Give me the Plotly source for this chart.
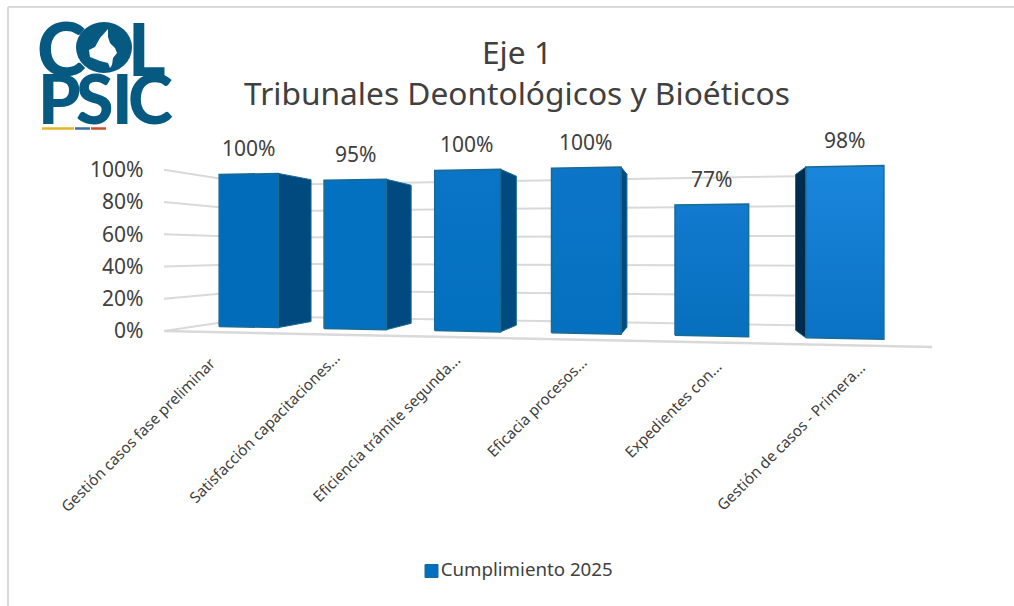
import plotly.graph_objects as go

# ---------- data ----------
categories = ["Gestión casos fase preliminar", "Satisfacción capacitaciones...",
              "Eficiencia trámite segunda...", "Eficacia procesos...",
              "Expedientes con...", "Gestión de casos - Primera..."]
values = [100, 95, 100, 100, 77, 98]
series_name = "Cumplimiento 2025"
value_ticks = [0, 20, 40, 60, 80, 100]
title_lines = ["Eje 1", "Tribunales Deontológicos y Bioéticos"]

# ---------- style / layout ----------
W, H = 1014, 606
FONT = "Noto Sans"
TEXT = "#404040"
GRID = "#d9d9d9"
EDGE = "#1a6a92"
SIDE_R = "#004a80"
SIDE_L = "#002c4e"
front_top = ["#016cb9", "#0370c0", "#0a74c6", "#0c75c8", "#127acf", "#1a86dc"]
front_bot = ["#016cb9", "#0370c0", "#0370be", "#0570bf", "#0670bd", "#0a72c4"]
label_anchor_right = [223, 347, 467, 593, 728, 872]
label_anchor_top = [350, 345, 347, 350, 353, 355]

# 3-D perspective of the Excel chart: category t, value v (0-100), depth d
VPX, VPY = 690.0, 252.0
AX, BX, CW = 97.29, 248.5, -0.02595
B0, B1, BV = 327.0, -6.48, -1.53
BAR_HALF = 0.285
D_BAR, D_FRONT, D_BACK = 0.0858, -0.0641, 0.15


def proj(t, v, d=0.0):
    w = 1 + CW * t + d
    return (AX * t + BX + VPX * d) / w, (B0 + B1 * t + BV * v + VPY * d) / w


Y0_PX, PX_PER_PCT = 330.5, 1.605


def to_val(py):
    return (Y0_PX - py) / PX_PER_PCT


def poly(points):
    xs = [p[0] for p in points] + [points[0][0]]
    ys = [to_val(p[1]) for p in points] + [to_val(points[0][1])]
    return xs, ys


fig = go.Figure()

# gridlines: side wall + back wall
t_min, t_max = -0.5, len(categories) - 0.5
for v in value_ticks:
    pts = [proj(t_min, v, D_FRONT), proj(t_min, v, D_BACK), proj(t_max, v, D_BACK)]
    fig.add_trace(go.Scatter(x=[p[0] for p in pts], y=[to_val(p[1]) for p in pts], mode="lines",
                             line=dict(color=GRID, width=2), hoverinfo="skip", showlegend=False))
# floor front edge
pts = [proj(t_min, 0, D_FRONT), proj(t_max, 0, D_FRONT)]
fig.add_trace(go.Scatter(x=[p[0] for p in pts], y=[to_val(p[1]) for p in pts], mode="lines",
                         line=dict(color=GRID, width=2.5), hoverinfo="skip", showlegend=False))

# bars
annotations = []
for i, (cat, val) in enumerate(zip(categories, values)):
    tl, tr = i - BAR_HALF, i + BAR_HALF
    lx = proj(tl, 0)[0]
    rx = proj(tr, 0)[0]
    if rx < VPX:
        xs, ys = poly([proj(tr, 0), proj(tr, val), proj(tr, val, D_BAR), proj(tr, 0, D_BAR)])
        fig.add_trace(go.Scatter(x=xs, y=ys, mode="lines", fill="toself", fillcolor=SIDE_R,
                                 line=dict(color=EDGE, width=1), hoverinfo="skip", showlegend=False))
    if lx > VPX:
        xs, ys = poly([proj(tl, 0), proj(tl, val), proj(tl, val, D_BAR), proj(tl, 0, D_BAR)])
        fig.add_trace(go.Scatter(x=xs, y=ys, mode="lines", fill="toself", fillcolor=SIDE_L,
                                 line=dict(color=EDGE, width=1), hoverinfo="skip", showlegend=False))
    xs, ys = poly([proj(tl, 0), proj(tl, val), proj(tr, val), proj(tr, 0)])
    fig.add_trace(go.Scatter(x=xs, y=ys, mode="lines", fill="toself",
                             fillgradient=dict(type="vertical",
                                               colorscale=[[0, front_bot[i]], [1, front_top[i]]]),
                             line=dict(color=EDGE, width=1.5), name=cat, showlegend=False,
                             hovertemplate=f"{cat}: {val}%<extra></extra>"))
    cx, cy = proj(i, val)
    annotations.append(dict(x=cx, y=to_val(cy - 26), xref="x", yref="y", text=f"{val}%", showarrow=False,
                            font=dict(family=FONT, size=21, color=TEXT)))
    annotations.append(dict(x=label_anchor_right[i] / W, y=1 - label_anchor_top[i] / H, xref="paper", yref="paper",
                            text=cat, textangle=-45, xanchor="right", yanchor="top", showarrow=False,
                            font=dict(family=FONT, size=15.2, color=TEXT)))

# legend key and label
fig.add_trace(go.Scatter(x=[431.5], y=[to_val(571)], mode="markers+text", name=series_name,
                         marker=dict(symbol="square", size=13, color="#0070c0", line=dict(color=EDGE, width=1)),
                         text=[series_name], textposition="middle right",
                         textfont=dict(family=FONT, size=18.7, color=TEXT), hoverinfo="skip", showlegend=False))

# ---------- logo ----------
LOGO = "#065a82"
logo_letters = [("C", 61.5, 47.5, 74), ("L", 147, 47.5, 72), ("P", 59, 97, 68), ("S", 94, 97, 68), ("I", 122, 97, 68),
                ("C", 150, 97, 68)]
for ch, lx, ly, size in logo_letters:
    annotations.append(dict(x=lx / W, y=1 - ly / H, xref="paper", yref="paper", text=ch, showarrow=False,
                            xanchor="center", yanchor="middle",
                            font=dict(family="Lato", size=size, color=LOGO, weight=900)))


def px_path(points):
    return "M " + " L ".join(f"{x / W:.5f},{1 - y / H:.5f}" for x, y in points) + " Z"


colombia = [(108, 29), (100, 38), (95, 47), (89, 50), (90, 57), (100, 61), (108, 63), (110, 68), (112, 65), (113, 58),
            (117, 53), (115, 48), (110, 43), (108, 37)]
shapes = [
    dict(type="line", xref="paper", yref="paper", x0=8 / W, x1=1, y0=1 - 7 / H, y1=1 - 7 / H,
         line=dict(color=GRID, width=2)),
    dict(type="line", xref="paper", yref="paper", x0=8 / W, x1=8 / W, y0=1 - 7 / H, y1=0,
         line=dict(color=GRID, width=2)),
    dict(type="circle", xref="paper", yref="paper", x0=76 / W, x1=132 / W, y0=1 - 73 / H, y1=1 - 22 / H,
         fillcolor=LOGO, line=dict(width=0), layer="above"),
    dict(type="path", xref="paper", yref="paper", path=px_path(colombia), fillcolor="white", line=dict(width=0),
         layer="above"),
    dict(type="line", xref="paper", yref="paper", x0=42 / W, x1=74 / W, y0=1 - 128.5 / H, y1=1 - 128.5 / H,
         line=dict(color="#e3b62c", width=2.5), layer="above"),
    dict(type="line", xref="paper", yref="paper", x0=75 / W, x1=90 / W, y0=1 - 128.5 / H, y1=1 - 128.5 / H,
         line=dict(color="#3a6ea5", width=2.5), layer="above"),
    dict(type="line", xref="paper", yref="paper", x0=91 / W, x1=106 / W, y0=1 - 128.5 / H, y1=1 - 128.5 / H,
         line=dict(color="#c8502d", width=2.5), layer="above"),
]

fig.update_layout(
    width=W, height=H, margin=dict(l=0, r=0, t=0, b=0), paper_bgcolor="white", plot_bgcolor="white",
    showlegend=False, annotations=annotations, shapes=shapes,
    title=dict(text="<br>".join(title_lines), x=517 / W, xanchor="center", y=1 - 63.5 / H, yanchor="middle",
               font=dict(family=FONT, size=31.7, color=TEXT)),
    xaxis=dict(range=[0, W], visible=False, fixedrange=True),
    yaxis=dict(range=[to_val(H), to_val(0)], anchor="free", position=143.5 / W, showgrid=False, zeroline=False,
               showline=False, tickmode="array", tickvals=value_ticks, ticktext=[f"{v}%" for v in value_ticks],
               ticks="", tickfont=dict(family=FONT, size=21, color=TEXT), fixedrange=True),
)
fig.write_html("out.html", post_script="document.body.style.margin='0';", config=dict(displayModeBar=False))
